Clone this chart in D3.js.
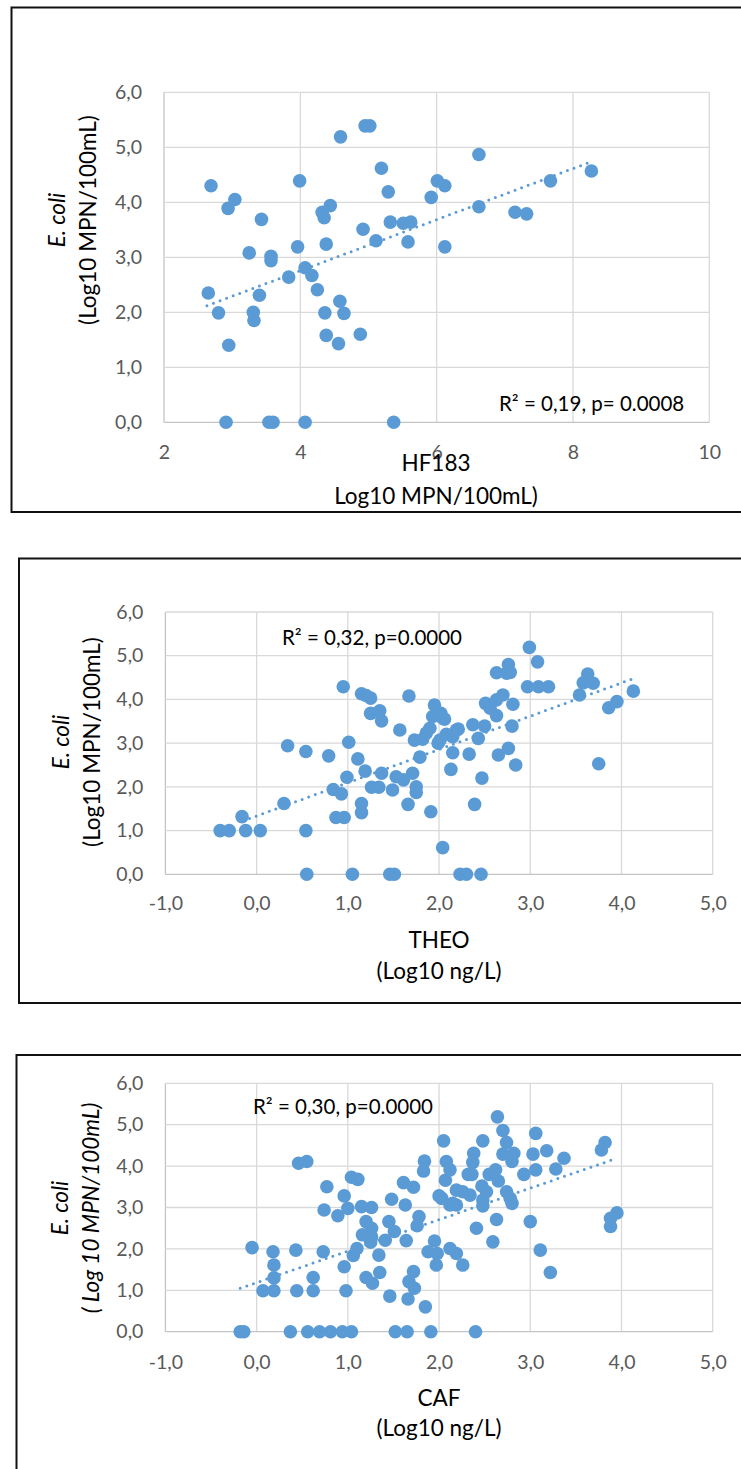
<!DOCTYPE html>
<html>
<head>
<meta charset="utf-8">
<script src="https://cdn.jsdelivr.net/npm/d3@7"></script>
<style>
  body { margin: 0; background: #fff; }
  text { font-family: Lato, "Open Sans", sans-serif; }
</style>
</head>
<body>
<script>
// ---- data ----
var yTicks = [0, 1, 2, 3, 4, 5, 6];
var hfTicks = [2, 4, 6, 8, 10];
var ngTicks = [-1, 0, 1, 2, 3, 4, 5];

// HF183 vs E. coli
var hfX = [2.69,3.04,2.94,3.43,3.99,4.59,4.95,5.02,5.19,5.29,5.92,6.01,6.12,4.32,4.44,4.35,4.92,5.11,5.32,5.51,
           5.62,5.58,6.12,4.38,3.96,3.25,3.57,3.57,4.07,4.17,3.83,4.25,2.65,3.40,2.80,3.31,3.32,4.58,4.36,4.64,
           4.38,4.56,4.88,2.95,2.91,3.54,3.60,4.07,5.37,6.62,6.62,7.15,7.32,7.67,8.27];
var hfY = [4.30,4.05,3.89,3.69,4.39,5.19,5.39,5.39,4.62,4.19,4.09,4.39,4.30,3.82,3.94,3.72,3.51,3.30,3.64,3.62,
           3.64,3.28,3.19,3.24,3.19,3.08,3.02,2.94,2.81,2.67,2.64,2.41,2.35,2.31,1.99,2.00,1.85,2.20,1.99,1.98,
           1.58,1.43,1.60,1.40,0,0,0,0,0,4.87,3.92,3.82,3.79,4.39,4.57];
var hfTrend = [[2.63, 2.12], [8.25, 4.73]];

// THEO vs E. coli
var theoX = [-0.40,-0.30,-0.12,0.04,0.54,-0.16,0.30,0.34,0.54,0.79,0.95,1.01,1.11,0.99,1.19,0.84,0.93,0.87,0.96,1.15,
             1.15,1.15,1.20,1.25,1.25,1.35,1.37,1.67,1.57,1.37,1.26,1.34,1.49,1.53,1.61,1.71,1.75,1.75,1.66,1.91,
             1.79,1.73,1.82,1.95,1.90,1.93,2.02,2.06,2.01,2.15,2.21,2.15,2.13,1.86,2.04,2.19,2.08,1.99,2.04,0.55,
             1.05,1.46,1.51,2.23,2.30,2.46,2.99,3.08,2.63,2.76,2.74,2.78,2.97,3.09,3.20,3.63,3.58,3.69,3.54,4.13,
             3.95,3.86,3.75,2.51,2.63,2.70,2.81,2.63,2.56,2.37,2.50,2.43,2.80,2.33,2.65,2.76,2.84,2.47,2.39];
var theoY = [1.00,1.00,1.00,1.00,1.00,1.32,1.62,2.94,2.81,2.71,4.29,3.02,2.64,2.22,2.36,1.94,1.84,1.30,1.30,1.62,
             1.41,4.13,4.09,4.03,3.68,3.74,3.51,4.08,3.30,2.31,1.99,1.99,1.93,2.23,2.16,2.31,2.00,1.87,1.60,1.43,
             2.68,3.07,3.09,3.87,3.34,3.61,3.68,3.55,3.07,3.15,3.32,2.78,2.40,3.23,3.57,3.30,3.20,3.00,0.61,0,
             0,0,0,0,0,0,5.19,4.86,4.61,4.80,4.60,4.62,4.29,4.29,4.29,4.58,4.38,4.37,4.10,4.19,
             3.95,3.81,2.53,3.91,3.99,4.10,3.89,3.63,3.80,3.42,3.39,3.11,3.39,2.75,2.73,2.88,2.50,2.20,1.60];
var theoTrend = [[-0.15, 1.22], [4.12, 4.47]];

// CAF vs E. coli
var cafX = [-0.18,-0.14,0.37,0.56,0.69,0.81,0.94,1.04,1.52,1.65,1.91,2.40,-0.05,0.18,0.19,0.19,0.07,0.19,0.43,0.44,
            0.62,0.62,0.73,0.46,0.55,0.77,0.96,0.74,0.89,1.00,1.04,1.11,1.15,1.26,1.20,1.26,1.16,1.26,1.25,1.10,
            1.06,0.96,0.98,1.20,1.27,1.35,1.34,1.45,1.51,1.41,1.48,1.61,1.72,1.63,1.64,1.46,1.66,1.72,1.73,1.67,
            1.85,1.78,1.76,1.84,1.83,1.95,1.88,1.98,1.97,2.05,2.08,2.12,2.07,2.00,2.12,2.19,2.19,2.26,2.12,2.19,
            2.26,2.64,2.70,2.74,2.70,2.82,2.80,3.06,3.03,3.18,3.37,3.28,3.06,2.93,2.48,2.38,2.37,2.32,2.36,2.55,
            2.62,2.65,2.34,2.47,2.52,2.48,2.74,2.78,2.80,2.48,2.15,2.03,2.63,2.41,2.59,3.00,3.11,3.22,3.78,3.82,
            3.88,3.95,3.88];
var cafY = [0,0,0,0,0,0,0,0,0,0,0,0,2.03,1.93,1.61,1.30,0.99,0.99,1.97,0.99,
            1.31,0.99,1.93,4.07,4.11,3.50,3.28,2.94,2.80,2.98,3.73,3.68,3.02,3.00,2.66,2.50,2.34,2.29,2.16,2.01,
            1.84,1.57,0.99,1.31,1.17,1.43,1.85,2.66,2.42,2.21,3.20,3.60,3.49,3.06,2.20,0.86,0.79,1.45,1.05,1.21,
            0.60,2.78,2.56,4.12,3.88,2.19,1.93,1.89,1.61,4.61,4.11,3.91,3.66,3.28,3.06,3.06,3.42,3.38,2.01,1.89,
            1.61,5.19,4.86,4.57,4.29,4.31,4.11,4.79,4.29,4.37,4.19,3.93,3.91,3.80,4.61,4.31,4.09,3.80,3.80,3.80,
            3.91,3.64,3.30,3.52,3.38,3.18,3.38,3.22,3.10,3.04,3.10,3.22,2.71,2.50,2.17,2.66,1.97,1.43,4.39,4.57,
            2.74,2.87,2.54];
var cafTrend = [[-0.18, 1.05], [3.91, 4.16]];

// ---- drawing ----
var blue = "#5B9BD5";
var svg = d3.select("body").append("svg")
    .attr("width", 741)
    .attr("height", 1469);

var loc = d3.formatLocale({decimal: ",", thousands: ".", grouping: [3], currency: ["", ""], minus: "-"});
var fmt1 = loc.format(".1f");

function scatter(o) {
  var x = d3.scaleLinear().domain(o.xDomain).range([o.left, o.right]);
  var y = d3.scaleLinear().domain([0, 6]).range([o.bottom, o.top]);
  var g = svg.append("g");

  // outer frame
  g.append("rect")
    .attr("x", o.frame[0]).attr("y", o.frame[1])
    .attr("width", o.frame[2]).attr("height", o.frame[3])
    .attr("fill", "none").attr("stroke", "#111").attr("stroke-width", 2);

  // grid
  g.selectAll(".vgrid").data(o.xTicks).enter().append("line")
    .attr("x1", function(d){ return x(d); }).attr("x2", function(d){ return x(d); })
    .attr("y1", o.top).attr("y2", o.bottom)
    .attr("stroke", function(d, i){ return i == 0 ? "#C4C4C4" : "#D9D9D9"; })
    .attr("stroke-width", 1.3);
  g.selectAll(".hgrid").data(yTicks).enter().append("line")
    .attr("x1", o.left).attr("x2", o.right)
    .attr("y1", function(d){ return y(d); }).attr("y2", function(d){ return y(d); })
    .attr("stroke", function(d){ return d == 0 ? "#C4C4C4" : "#D9D9D9"; })
    .attr("stroke-width", 1.3);

  // tick labels
  var ya = g.append("g")
    .attr("transform", "translate(" + o.left + ",0)")
    .call(d3.axisLeft(y).tickValues(yTicks).tickSize(0).tickPadding(22).tickFormat(fmt1));
  var xa = g.append("g")
    .attr("transform", "translate(0," + o.bottom + ")")
    .call(d3.axisBottom(x).tickValues(o.xTicks).tickSize(0).tickFormat(o.xFormat));
  xa.selectAll("text").attr("y", o.xLabOff).attr("dy", "0.35em");
  [ya, xa].forEach(function(a){
    a.select(".domain").remove();
    a.selectAll("text")
      .style("font-family", "Lato, sans-serif")
      .style("font-size", "19.5px")
      .attr("fill", "#595959");
  });

  // points
  g.selectAll("circle").data(o.xs).enter().append("circle")
    .attr("cx", function(d){ return x(d); })
    .attr("cy", function(d, i){ return y(o.ys[i]); })
    .attr("r", 6.8)
    .attr("fill", blue);

  // linear trend
  g.append("path")
    .datum(o.trend)
    .attr("d", d3.line().x(function(d){ return x(d[0]); }).y(function(d){ return y(d[1]); }))
    .attr("fill", "none").attr("stroke", blue)
    .attr("stroke-width", 3).attr("stroke-linecap", "round")
    .attr("stroke-dasharray", "0 7");

  // R² note
  g.append("text")
    .attr("x", o.note[0]).attr("y", o.note[1]).attr("dy", "0.35em")
    .style("font-size", "20.5px").attr("fill", "#000")
    .text(o.noteText);

  // x title
  g.selectAll(".xt").data(o.xTitle).enter().append("text")
    .attr("x", o.xTitleX)
    .attr("y", function(d, i){ return o.xTitleY[i]; })
    .attr("dy", "0.35em")
    .attr("text-anchor", "middle")
    .style("font-size", "22.5px").attr("fill", "#000")
    .text(function(d){ return d; });

  // y title (rotated, two lines)
  g.selectAll(".yt").data(o.yTitle).enter().append("text")
    .attr("transform", function(d, i){
      return "translate(" + o.yTitleX[i] + "," + o.yTitleY + ") rotate(-90)";
    })
    .attr("text-anchor", "middle")
    .style("font-size", "22.5px")
    .style("font-style", function(d, i){ return (i == 0 || o.yItalic) ? "italic" : "normal"; })
    .attr("fill", "#000")
    .text(function(d){ return d; });
}

scatter({
  frame: [11.5, 7.5, 740, 504.5],
  left: 164, right: 709.3, top: 92.3, bottom: 422.3,
  xDomain: [2, 10], xTicks: hfTicks, xFormat: d3.format("d"), xLabOff: 29.5,
  xs: hfX, ys: hfY, trend: hfTrend,
  note: [499, 404], noteText: "R² = 0,19, p= 0.0008",
  xTitle: ["HF183", "Log10 MPN/100mL)"], xTitleX: 436, xTitleY: [463, 496.5],
  yTitle: ["E. coli", "(Log10 MPN/100mL)"], yTitleX: [65, 96], yTitleY: 220, yItalic: false
});

scatter({
  frame: [19, 558.5, 730, 444.5],
  left: 165.4, right: 712.7, top: 612, bottom: 874.3,
  xDomain: [-1, 5], xTicks: ngTicks, xFormat: fmt1, xLabOff: 29,
  xs: theoX, ys: theoY, trend: theoTrend,
  note: [282, 638], noteText: "R² = 0,32, p=0.0000",
  xTitle: ["THEO", "(Log10 ng/L)"], xTitleX: 439, xTitleY: [940, 971.5],
  yTitle: ["E. coli", "(Log10 MPN/100mL)"], yTitleX: [69, 100], yTitleY: 742, yItalic: false
});

scatter({
  frame: [16.5, 1055, 730, 500],
  left: 165.4, right: 712.7, top: 1083.3, bottom: 1331.7,
  xDomain: [-1, 5], xTicks: ngTicks, xFormat: fmt1, xLabOff: 30,
  xs: cafX, ys: cafY, trend: cafTrend,
  note: [253, 1106.5], noteText: "R² = 0,30, p=0.0000",
  xTitle: ["CAF", "(Log10 ng/L)"], xTitleX: 439, xTitleY: [1398, 1428],
  yTitle: ["E. coli", "( Log 10 MPN/100mL)"], yTitleX: [68, 99], yTitleY: 1208, yItalic: true
});
</script>
</body>
</html>
